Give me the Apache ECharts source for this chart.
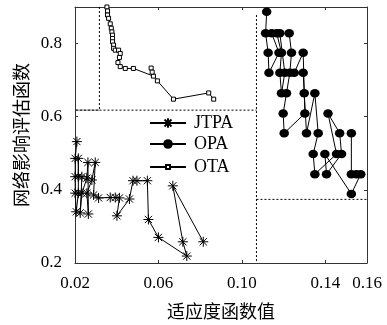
<!DOCTYPE html>
<html>
<head>
<meta charset="utf-8">
<script src="https://cdn.jsdelivr.net/npm/echarts@6/dist/echarts.min.js"></script>
<style>
  html, body { margin: 0; padding: 0; background: #fff; }
  #chart { width: 387px; height: 325px; }
</style>
</head>
<body>
<div id="chart"></div>
<script>
// Tick values for both axes
const xLabelStep = 0.04;
const xTickMarks = [0.06, 0.10, 0.14];
const yTickLabels = [0.2, 0.4, 0.6, 0.8];
const yTickMarks = [0.4, 0.6, 0.8];

// Series: [fitness value, network influence evaluation]
const jtpaPoints = [
  [0.0209, 0.532], [0.0201, 0.486], [0.0201, 0.436], [0.0201, 0.391], [0.0206, 0.340],
  [0.0216, 0.391], [0.0216, 0.486], [0.0216, 0.436], [0.0233, 0.436], [0.0225, 0.337],
  [0.0233, 0.391], [0.0257, 0.432], [0.0262, 0.475], [0.0264, 0.334], [0.0257, 0.391],
  [0.0281, 0.427], [0.0297, 0.475], [0.0289, 0.386], [0.0313, 0.378], [0.0369, 0.379],
  [0.0393, 0.379], [0.0413, 0.378], [0.0401, 0.329], [0.0461, 0.375], [0.0478, 0.425],
  [0.0497, 0.425], [0.0547, 0.425], [0.0552, 0.319], [0.0600, 0.270], [0.0736, 0.219],
  [0.0717, 0.258], [0.0669, 0.411], [0.0815, 0.258]
];

const opaPoints = [
  [0.1119, 0.887], [0.1114, 0.828], [0.1126, 0.775], [0.1130, 0.720], [0.1178, 0.775],
  [0.1143, 0.828], [0.1167, 0.828], [0.1190, 0.775], [0.1182, 0.720], [0.1190, 0.664],
  [0.1206, 0.720], [0.1182, 0.828], [0.1227, 0.828], [0.1238, 0.775], [0.1230, 0.720],
  [0.1214, 0.664], [0.1198, 0.609], [0.1203, 0.555], [0.1302, 0.609], [0.1294, 0.775],
  [0.1251, 0.720], [0.1294, 0.720], [0.1299, 0.664], [0.1310, 0.555], [0.1350, 0.664],
  [0.1366, 0.555], [0.1342, 0.498], [0.1350, 0.443], [0.1454, 0.498], [0.1413, 0.609],
  [0.1469, 0.555], [0.1478, 0.498], [0.1406, 0.443], [0.1398, 0.498], [0.1525, 0.389],
  [0.1570, 0.443], [0.1549, 0.443], [0.1525, 0.443], [0.1525, 0.555]
];

const otaPoints = [
  [0.0353, 0.900], [0.0356, 0.889], [0.0356, 0.878], [0.0361, 0.869], [0.0369, 0.854],
  [0.0374, 0.842], [0.0377, 0.832], [0.0380, 0.823], [0.0380, 0.814], [0.0380, 0.805],
  [0.0385, 0.796], [0.0385, 0.787], [0.0393, 0.782], [0.0409, 0.782], [0.0417, 0.773],
  [0.0413, 0.762], [0.0406, 0.748], [0.0417, 0.737], [0.0441, 0.732], [0.0480, 0.732],
  [0.0576, 0.711], [0.0565, 0.733], [0.0570, 0.722], [0.0595, 0.698], [0.0672, 0.648],
  [0.0841, 0.665], [0.0865, 0.648]
];

// Region boundaries (dotted)
const otaBoundX = 0.0317;
const otaBoundY = 0.618;
const opaBoundX = 0.107;
const opaBoundTop = 0.878;
const opaBoundY = 0.374;

const xMin = 0.02, xMax = 0.16, yMin = 0.2, yMax = 0.9;

const asterisk = 'path://M0,-5L0,5M-5,0L5,0M-3.6,-3.6L3.6,3.6M-3.6,3.6L3.6,-3.6';
const serif = 'Liberation Serif';
const axisColor = '#333';

function dotted(data) {
  return {
    type: 'line', data: data, symbol: 'none', silent: true, z: 1,
    lineStyle: { color: '#000', width: 1, type: [2, 2] }
  };
}

const legendText = { fontFamily: serif, fontSize: 18, color: '#000', padding: [0, 0, 0, 3] };

const chart = echarts.init(document.getElementById('chart'), null, { renderer: 'canvas' });
chart.setOption({
  animation: false,
  backgroundColor: '#fff',
  grid: { left: 75, right: 20, top: 7, bottom: 62, outerBoundsMode: 'none', containLabel: false },
  legend: [{
    data: ['JTPA', 'OPA'],
    orient: 'vertical',
    left: 144, top: 109,
    itemWidth: 36, itemHeight: 12, itemGap: 3,
    textStyle: legendText
  }, {
    data: ['OTA'],
    orient: 'vertical',
    left: 144, top: 153,
    itemWidth: 36, itemHeight: 5,
    textStyle: legendText
  }],
  xAxis: [{
    type: 'value', min: xMin, max: xMax, interval: xLabelStep,
    name: '适应度函数值', nameLocation: 'middle', nameGap: 39,
    nameTextStyle: { fontFamily: 'Noto Sans CJK SC', fontSize: 18, color: '#000' },
    axisLine: { show: true, lineStyle: { color: axisColor } },
    axisTick: { show: true, inside: true, length: 3, customValues: xTickMarks, lineStyle: { color: axisColor } },
    axisLabel: { formatter: v => v.toFixed(2), fontFamily: serif, fontSize: 17, color: '#000', margin: 12, hideOverlap: false },
    splitLine: { show: false }
  }, {
    type: 'value', min: xMin, max: xMax, position: 'top',
    axisLine: { show: true, lineStyle: { color: axisColor } },
    axisTick: { show: true, inside: true, length: 3, customValues: xTickMarks, lineStyle: { color: axisColor } },
    axisLabel: { show: false }, splitLine: { show: false }
  }],
  yAxis: [{
    type: 'value', min: yMin, max: yMax,
    name: '网络影响评估函数', nameLocation: 'middle', nameGap: 45, nameRotate: 90,
    nameTextStyle: { fontFamily: 'Noto Sans CJK SC', fontSize: 18, color: '#000' },
    axisLine: { show: true, lineStyle: { color: axisColor } },
    axisTick: { show: true, inside: true, length: 3, customValues: yTickMarks, lineStyle: { color: axisColor } },
    axisLabel: { customValues: yTickLabels, formatter: v => v.toFixed(1), fontFamily: serif, fontSize: 17, color: '#000', margin: 13 },
    splitLine: { show: false }
  }, {
    type: 'value', min: yMin, max: yMax, position: 'right',
    axisLine: { show: true, lineStyle: { color: axisColor } },
    axisTick: { show: true, inside: true, length: 3, customValues: yTickMarks, lineStyle: { color: axisColor } },
    axisLabel: { show: false }, splitLine: { show: false }
  }],
  series: [
    dotted([[otaBoundX, yMax], [otaBoundX, otaBoundY], [xMin, otaBoundY], [opaBoundX, otaBoundY]]),
    dotted([[opaBoundX, opaBoundTop], [opaBoundX, yMin]]),
    dotted([[opaBoundX, opaBoundY], [xMax, opaBoundY]]),
    {
      name: 'JTPA', type: 'line', data: jtpaPoints, z: 3, clip: false,
      symbol: asterisk, symbolSize: 10,
      color: '#000',
      itemStyle: { color: '#000', borderColor: '#000', borderWidth: 1 },
      lineStyle: { color: '#000', width: 1 }
    },
    {
      name: 'OPA', type: 'line', data: opaPoints, z: 3, clip: false,
      symbol: 'circle', symbolSize: [9.5, 8.5],
      color: '#000',
      itemStyle: { color: '#000' },
      lineStyle: { color: '#000', width: 1 }
    },
    {
      name: 'OTA', type: 'line', data: otaPoints, z: 3, clip: false,
      symbol: 'rect', symbolSize: 4,
      color: '#000',
      itemStyle: { color: '#fff', borderColor: '#000', borderWidth: 1 },
      lineStyle: { color: '#000', width: 1 }
    }
  ]
});
</script>
</body>
</html>
